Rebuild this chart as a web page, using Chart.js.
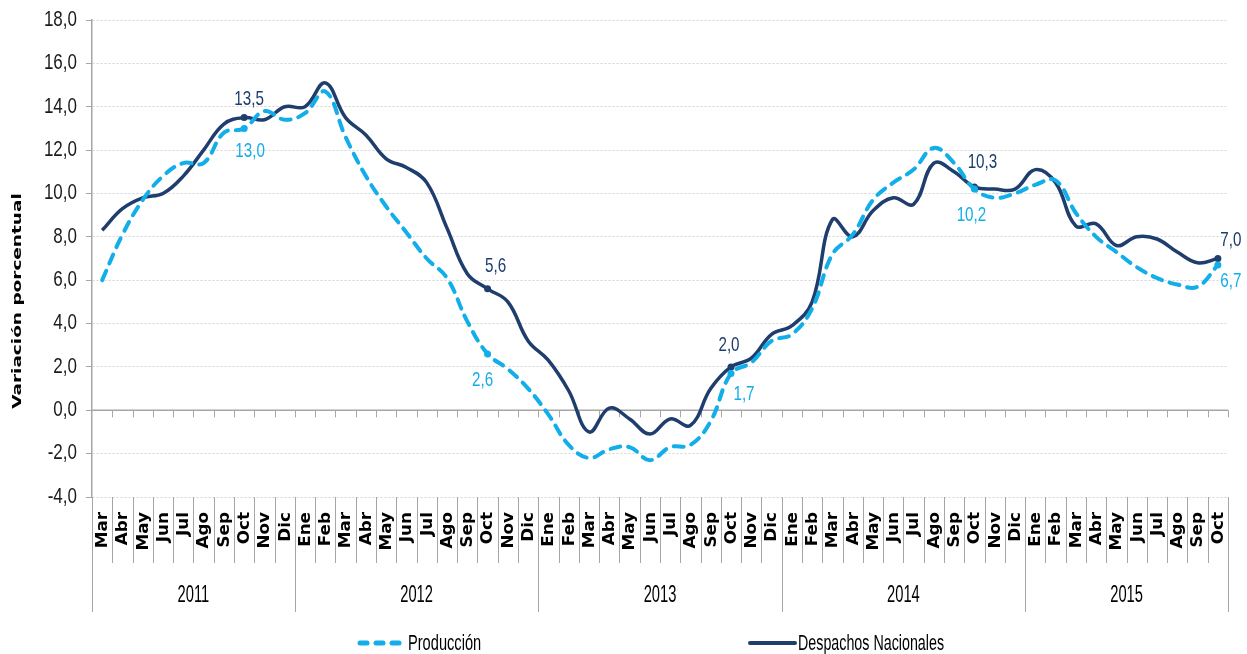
<!DOCTYPE html>
<html lang="es">
<head>
<meta charset="utf-8">
<title>Producción y Despachos Nacionales</title>
<script src="https://cdn.jsdelivr.net/npm/chart.js@4.4.1/dist/chart.umd.min.js"></script>
<style>
  html, body { margin: 0; padding: 0; background: #ffffff; }
  #wrap { position: relative; width: 1247px; height: 654px; }
</style>
</head>
<body>
<div id="wrap"><canvas id="chart"></canvas></div>
<script>
// category labels (Mar 2011 .. Oct 2015)
const months = [
  "Mar", "Abr", "May", "Jun", "Jul", "Ago", "Sep", "Oct", "Nov", "Dic",
  "Ene", "Feb", "Mar", "Abr", "May", "Jun", "Jul", "Ago", "Sep", "Oct", "Nov", "Dic",
  "Ene", "Feb", "Mar", "Abr", "May", "Jun", "Jul", "Ago", "Sep", "Oct", "Nov", "Dic",
  "Ene", "Feb", "Mar", "Abr", "May", "Jun", "Jul", "Ago", "Sep", "Oct", "Nov", "Dic",
  "Ene", "Feb", "Mar", "Abr", "May", "Jun", "Jul", "Ago", "Sep", "Oct",
];
const years = ["2011", "2012", "2013", "2014", "2015"];
const monthsPerYear = [10, 12, 12, 12, 10];

// variación porcentual
const produccion = [
  6.0, 8.1, 9.7, 10.8, 11.4, 11.4, 12.8, 13.0, 13.8, 13.4,
  13.7, 14.7, 12.6, 10.8, 9.4, 8.2, 7.0, 6.1, 4.1, 2.6, 1.9, 1.0,
  -0.2, -1.6, -2.2, -1.8, -1.7, -2.3, -1.7, -1.6, -0.5, 1.7, 2.2, 3.2,
  3.5, 4.7, 7.2, 8.1, 9.7, 10.5, 11.1, 12.1, 11.4, 10.2, 9.8, 10.0,
  10.4, 10.6, 9.1, 8.0, 7.3, 6.6, 6.1, 5.8, 5.7, 6.7,
];
const despachos = [
  8.3, 9.3, 9.8, 10.0, 10.8, 12.0, 13.2, 13.5, 13.4, 14.0,
  14.0, 15.1, 13.5, 12.7, 11.6, 11.2, 10.5, 8.4, 6.3, 5.6, 5.0, 3.2,
  2.3, 0.9, -1.0, 0.1, -0.4, -1.1, -0.4, -0.7, 1.0, 2.0, 2.4, 3.5,
  3.9, 5.0, 8.8, 8.0, 9.2, 9.8, 9.5, 11.4, 11.0, 10.3, 10.2, 10.2,
  11.1, 10.5, 8.5, 8.6, 7.6, 8.0, 7.9, 7.3, 6.8, 7.0,
];
// Octubre de cada año lleva etiqueta de valor
const labeledPoints = [7, 19, 31, 43, 55];

const yMin = -4;
const yMax = 18;
const yStep = 2;

const DARK = "#1f3d6d";
const LIGHT = "#12aee9";
const AXIS = "#a6a6a6";
const SANS = "'Liberation Sans', Arial, sans-serif";
const BOLD = "bold 15px 'DejaVu Sans', Verdana, sans-serif";

const fmt = (v) => v.toFixed(1).replace(".", ",");

function drawStretched(ctx, text, x, y, opts) {
  ctx.save();
  ctx.translate(x, y);
  if (opts.rotate) ctx.rotate(opts.rotate);
  ctx.scale(opts.sx || 1, opts.sy || 1);
  ctx.font = opts.font;
  ctx.fillStyle = opts.color || "#000";
  ctx.textAlign = opts.align || "center";
  ctx.textBaseline = opts.baseline || "middle";
  ctx.fillText(text, 0, 0);
  ctx.restore();
}

const axisDecor = {
  id: "axisDecor",
  beforeDatasetsDraw(chart) {
    const { ctx, chartArea, scales } = chart;
    const y0 = scales.y.getPixelForValue(0);
    const w = (chartArea.right - chartArea.left) / months.length;
    ctx.save();
    ctx.strokeStyle = AXIS;
    ctx.lineWidth = 1.5;
    ctx.beginPath();
    ctx.moveTo(chartArea.left, y0);
    ctx.lineTo(chartArea.right, y0);
    ctx.stroke();
    ctx.lineWidth = 1;
    for (let k = 1; k <= months.length; k++) {
      const px = Math.round(chartArea.left + k * w) + 0.5;
      ctx.beginPath();
      ctx.moveTo(px, y0);
      ctx.lineTo(px, y0 + 7);
      ctx.stroke();
    }
    ctx.restore();
  },
  afterDraw(chart) {
    const { ctx, chartArea, scales } = chart;
    const x = scales.x;
    const y = scales.y;
    const bottom = chartArea.bottom;
    const w = (chartArea.right - chartArea.left) / months.length;

    // etiquetas eje Y
    y.ticks.forEach((t) => {
      drawStretched(ctx, fmt(t.value), 77, y.getPixelForValue(t.value), {
        sy: 1.25, font: "17px " + SANS, color: "#1a1a1a", align: "right",
      });
    });

    // separadores de meses y años
    ctx.save();
    ctx.strokeStyle = AXIS;
    ctx.lineWidth = 1;
    const yearEdges = [0];
    monthsPerYear.reduce((acc, n) => { yearEdges.push(acc + n); return acc + n; }, 0);
    for (let k = 0; k <= months.length; k++) {
      const px = Math.round(chartArea.left + k * w) + 0.5;
      ctx.beginPath();
      ctx.moveTo(px, bottom);
      ctx.lineTo(px, yearEdges.includes(k) ? 612 : 563);
      ctx.stroke();
    }
    ctx.restore();

    // etiquetas de meses
    months.forEach((m, i) => {
      drawStretched(ctx, m, x.getPixelForValue(i) + 1, 512, {
        rotate: -Math.PI / 2, sx: 1.12, sy: 1,
        font: BOLD, color: "#000", align: "right", baseline: "middle",
      });
    });

    // etiquetas de años
    let start = 0;
    years.forEach((yr, j) => {
      const end = start + monthsPerYear[j];
      const cx = chartArea.left + ((start + end) / 2) * w;
      drawStretched(ctx, yr, cx, 596, {
        sx: 0.92, sy: 1.45, font: "16px " + SANS, color: "#000",
      });
      start = end;
    });

    // título eje Y
    drawStretched(ctx, "Variación porcentual", 18, 301, {
      rotate: -Math.PI / 2, sx: 1.42, sy: 1,
      font: "bold 13px 'DejaVu Sans', Verdana, sans-serif", color: "#000",
    });

    // etiquetas de valores
    const metaP = chart.getDatasetMeta(0).data;
    const metaD = chart.getDatasetMeta(1).data;
    const offsets = {
      7: { d: [5, -18], p: [6, 23] },
      19: { d: [8, -23], p: [-5, 26] },
      31: { d: [-2, -22], p: [13, 21] },
      43: { d: [8, -25], p: [-3, 26] },
      55: { d: [13, -18], p: [13, 16] },
    };
    labeledPoints.forEach((i) => {
      const o = offsets[i];
      drawStretched(ctx, fmt(despachos[i]), metaD[i].x + o.d[0], metaD[i].y + o.d[1], {
        sx: 0.95, sy: 1.3, font: "16px " + SANS, color: DARK,
      });
      drawStretched(ctx, fmt(produccion[i]), metaP[i].x + o.p[0], metaP[i].y + o.p[1], {
        sx: 0.95, sy: 1.3, font: "16px " + SANS, color: LIGHT,
      });
    });

    // leyenda
    ctx.save();
    ctx.lineCap = "round";
    ctx.strokeStyle = LIGHT;
    ctx.lineWidth = 5;
    [358, 374, 390].forEach((sx) => {
      ctx.beginPath();
      ctx.moveTo(sx + 2, 643);
      ctx.lineTo(sx + 9, 643);
      ctx.stroke();
    });
    ctx.strokeStyle = DARK;
    ctx.lineWidth = 4;
    ctx.beginPath();
    ctx.moveTo(750, 643);
    ctx.lineTo(795, 643);
    ctx.stroke();
    ctx.restore();
    drawStretched(ctx, "Producción", 408, 644, {
      sx: 0.86, sy: 1.25, font: "17px " + SANS, color: "#000", align: "left",
    });
    drawStretched(ctx, "Despachos Nacionales", 798, 644, {
      sx: 0.84, sy: 1.25, font: "17px " + SANS, color: "#000", align: "left",
    });
  },
};

const pointRadius = (i) => (labeledPoints.includes(i) ? 3.5 : 0);

new Chart(document.getElementById("chart"), {
  type: "line",
  data: {
    labels: months,
    datasets: [
      {
        label: "Producción",
        data: produccion,
        borderColor: LIGHT,
        backgroundColor: LIGHT,
        borderWidth: 4,
        borderDash: [10, 8],
        borderCapStyle: "round",
        tension: 0.4,
        pointRadius: months.map((_, i) => pointRadius(i)),
        pointBorderWidth: 0,
      },
      {
        label: "Despachos Nacionales",
        data: despachos,
        borderColor: DARK,
        backgroundColor: DARK,
        borderWidth: 3.5,
        tension: 0.4,
        pointRadius: months.map((_, i) => pointRadius(i)),
        pointBorderWidth: 0,
      },
    ],
  },
  options: {
    responsive: true,
    maintainAspectRatio: false,
    animation: false,
    layout: { padding: { top: 20, right: 19, bottom: 0, left: 0 } },
    plugins: {
      legend: { display: false },
      tooltip: { enabled: false },
    },
    scales: {
      x: {
        type: "category",
        offset: true,
        grid: { display: false },
        border: { display: false },
        ticks: { display: false },
        afterFit: (scale) => { scale.height = 157; },
      },
      y: {
        min: yMin,
        max: yMax,
        afterFit: (scale) => { scale.width = 92; },
        border: { display: true, color: AXIS, width: 1.5, dash: [2, 2] },
        grid: {
          color: "#d4d4d4",
          lineWidth: 1,
          drawTicks: true,
          tickLength: 6,
          tickColor: AXIS,
          tickWidth: 1,
        },
        ticks: {
          stepSize: yStep,
          display: false,
        },
      },
    },
  },
  plugins: [axisDecor],
});
</script>
</body>
</html>
